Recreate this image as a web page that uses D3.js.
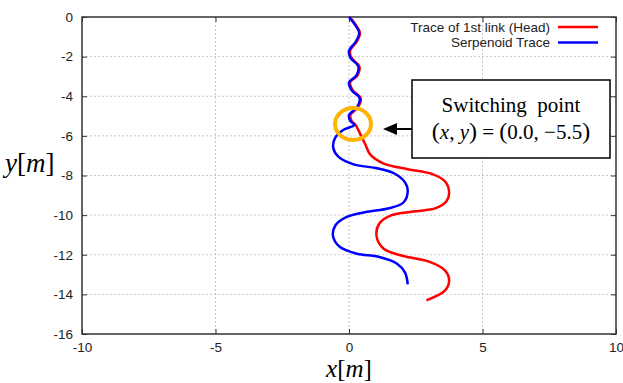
<!DOCTYPE html>
<html>
<head>
<meta charset="utf-8">
<script src="https://cdn.jsdelivr.net/npm/d3@7"></script>
<style>
  body { margin: 0; background: #fff; }
  #chart { width: 623px; height: 383px; }
  .legend { font-family: Arial, "Liberation Sans", sans-serif; font-size: 13.5px; fill: #222; }
  .serif { font-family: "Liberation Serif", "Times New Roman", serif; }
</style>
</head>
<body>
<div id="chart"></div>
<script>
// ---- data ----
const xTicks = [-10, -5, 0, 5, 10];
const yTicks = [0, -2, -4, -6, -8, -10, -12, -14, -16];

// head trace (red)
const headX = [0.03, 0.23, 0.41, 0.29, 0.04, 0.09, 0.39, 0.32, 0.04, 0.14, 0.44, 0.34, 0.05, 0.1, 0.25,
               0.4, 0.6, 0.8, 1.3, 2.2, 3.1, 3.6, 3.75, 3.65, 3.25, 2.4, 1.6, 1.15, 1.03, 1.3, 2.0, 3.0, 3.6, 3.75, 3.6, 2.9];
const headY = [0, -0.35, -0.8, -1.25, -1.7, -2.05, -2.5, -2.95, -3.3, -3.7, -4.1, -4.55, -4.95, -5.25, -5.45,
               -5.85, -6.4, -6.95, -7.4, -7.68, -7.92, -8.3, -8.85, -9.3, -9.65, -9.82, -10.0, -10.4, -11.05, -11.7, -12.05, -12.35, -12.8, -13.3, -13.8, -14.3];

// serpenoid trace (blue)
const serpX = [0, 0.2, 0.38, 0.25, 0.0, 0.05, 0.35, 0.28, 0.0, 0.1, 0.4, 0.3, 0.0, 0.05, 0.2, -0.22, -0.52, -0.59,
               -0.4, 0.2, 1.0, 1.7, 2.1, 2.2, 2.05, 1.5, 0.6, -0.1, -0.5, -0.6, -0.35, 0.3, 1.1, 1.8, 2.1, 2.2];
const serpY = [0, -0.35, -0.8, -1.25, -1.7, -2.05, -2.5, -2.95, -3.3, -3.7, -4.1, -4.55, -4.95, -5.25, -5.45, -5.7, -6.1, -6.6,
               -7.05, -7.45, -7.62, -7.9, -8.35, -8.75, -9.35, -9.65, -9.85, -10.1, -10.5, -11.05, -11.6, -11.95, -12.1, -12.45, -12.9, -13.5];

const seriesNames = ["Trace of 1st link (Head)", "Serpenoid Trace"];
const seriesColors = ["#ff0000", "#0000ff"];

const switchPoint = [0.15, -5.4];

// ---- svg ----
const width = 623, height = 383;
const margin = {top: 17, left: 82, right: 7, bottom: 49};

const svg = d3.select("#chart").append("svg")
    .attr("width", width)
    .attr("height", height);

const xScale = d3.scaleLinear().domain([-10, 10]).range([margin.left, width - margin.right]);
const yScale = d3.scaleLinear().domain([-16, 0]).range([height - margin.bottom, margin.top]);

// grid
svg.append("g").selectAll("line")
    .data(xTicks.slice(1, -1))
    .join("line")
    .attr("x1", d => xScale(d)).attr("x2", d => xScale(d))
    .attr("y1", yScale(0)).attr("y2", yScale(-16))
    .attr("stroke", "#c8c8c8").attr("stroke-dasharray", "2,2");

svg.append("g").selectAll("line")
    .data(yTicks.slice(1, -1))
    .join("line")
    .attr("x1", xScale(-10)).attr("x2", xScale(10))
    .attr("y1", d => yScale(d)).attr("y2", d => yScale(d))
    .attr("stroke", "#c8c8c8").attr("stroke-dasharray", "2,2");

// axes (inner ticks, mirrored); plain hyphen for negatives like the original
const fmt = d => String(d);

const axBottom = svg.append("g")
    .attr("transform", `translate(0,${yScale(-16)})`)
    .call(d3.axisBottom(xScale).tickValues(xTicks).tickFormat(fmt).tickSize(-5).tickPadding(8));
const axTop = svg.append("g")
    .attr("transform", `translate(0,${yScale(0)})`)
    .call(d3.axisTop(xScale).tickValues(xTicks).tickSize(-5).tickFormat(""));
const axLeft = svg.append("g")
    .attr("transform", `translate(${xScale(-10)},0)`)
    .call(d3.axisLeft(yScale).tickValues(yTicks).tickFormat(fmt).tickSize(-5).tickPadding(9));
const axRight = svg.append("g")
    .attr("transform", `translate(${xScale(10)},0)`)
    .call(d3.axisRight(yScale).tickValues(yTicks).tickSize(-5).tickFormat(""));

[axBottom, axTop, axLeft, axRight].forEach(g => {
    g.select(".domain").remove();
    g.selectAll(".tick line").attr("stroke", "#333");
    g.selectAll(".tick text")
        .attr("font-family", "Arial, 'Liberation Sans', sans-serif")
        .attr("font-size", 13.5)
        .attr("fill", "#222");
});

svg.append("rect")
    .attr("x", xScale(-10)).attr("y", yScale(0))
    .attr("width", xScale(10) - xScale(-10))
    .attr("height", yScale(-16) - yScale(0))
    .attr("fill", "none").attr("stroke", "#333").attr("stroke-width", 1.5);

// traces
const line = d3.line()
    .x(d => xScale(d[0]))
    .y(d => yScale(d[1]))
    .curve(d3.curveCatmullRom.alpha(0.5));

const traces = [d3.zip(headX, headY), d3.zip(serpX, serpY)];

svg.append("g").selectAll("path")
    .data(traces)
    .join("path")
    .attr("d", line)
    .attr("fill", "none")
    .attr("stroke", (d, i) => seriesColors[i])
    .attr("stroke-width", 2.5);

// legend
const legend = svg.append("g").selectAll("g")
    .data(seriesNames)
    .join("g")
    .attr("transform", (d, i) => `translate(0,${27 + i * 15.5})`);
legend.append("text")
    .attr("class", "legend")
    .attr("x", 550).attr("dy", "0.35em")
    .attr("text-anchor", "end")
    .text(d => d);
legend.append("line")
    .attr("x1", 558).attr("x2", 598)
    .attr("stroke", (d, i) => seriesColors[i])
    .attr("stroke-width", 2.5);

// switching point marker
svg.append("ellipse")
    .attr("cx", xScale(switchPoint[0]))
    .attr("cy", yScale(switchPoint[1]))
    .attr("rx", 18).attr("ry", 16)
    .attr("fill", "none")
    .attr("stroke", "#ffb400")
    .attr("stroke-width", 4);

// annotation box + arrow
const boxX = 412, boxY = 80, boxW = 198, boxH = 78;
const arrowY = boxY + 49;

svg.append("line")
    .attr("x1", boxX).attr("x2", xScale(switchPoint[0]) + 42)
    .attr("y1", arrowY).attr("y2", arrowY)
    .attr("stroke", "#000").attr("stroke-width", 2);
svg.append("path")
    .attr("d", d3.line()([[xScale(switchPoint[0]) + 30, arrowY],
                          [xScale(switchPoint[0]) + 44, arrowY - 6],
                          [xScale(switchPoint[0]) + 44, arrowY + 6]]) + "Z")
    .attr("fill", "#000");

svg.append("rect")
    .attr("x", boxX).attr("y", boxY)
    .attr("width", boxW).attr("height", boxH)
    .attr("fill", "#fff").attr("stroke", "#000").attr("stroke-width", 1.5);

svg.append("text")
    .attr("class", "serif")
    .attr("x", boxX + boxW / 2).attr("y", boxY + 32)
    .attr("text-anchor", "middle")
    .attr("font-size", 21)
    .attr("xml:space", "preserve")
    .text("Switching  point");

const t2 = svg.append("text")
    .attr("class", "serif")
    .attr("x", boxX + boxW / 2).attr("y", boxY + 59)
    .attr("text-anchor", "middle")
    .attr("font-size", 21);
t2.append("tspan").attr("font-size", 24).text("(");
t2.append("tspan").attr("font-style", "italic").text("x");
t2.append("tspan").text(", ");
t2.append("tspan").attr("font-style", "italic").text("y");
t2.append("tspan").attr("font-size", 24).text(")");
t2.append("tspan").text(" = ");
t2.append("tspan").attr("font-size", 24).text("(");
t2.append("tspan").text("0.0, \u22125.5");
t2.append("tspan").attr("font-size", 24).text(")");

// axis titles
const yt = svg.append("text")
    .attr("class", "serif")
    .attr("x", 5).attr("y", 172)
    .attr("font-size", 27);
yt.append("tspan").attr("font-style", "italic").text("y");
yt.append("tspan").text("[");
yt.append("tspan").attr("font-style", "italic").text("m");
yt.append("tspan").text("]");

const xt = svg.append("text")
    .attr("class", "serif")
    .attr("x", xScale(0)).attr("y", 377)
    .attr("text-anchor", "middle")
    .attr("font-size", 25);
xt.append("tspan").attr("font-style", "italic").text("x");
xt.append("tspan").text("[");
xt.append("tspan").attr("font-style", "italic").text("m");
xt.append("tspan").text("]");
</script>
</body>
</html>
